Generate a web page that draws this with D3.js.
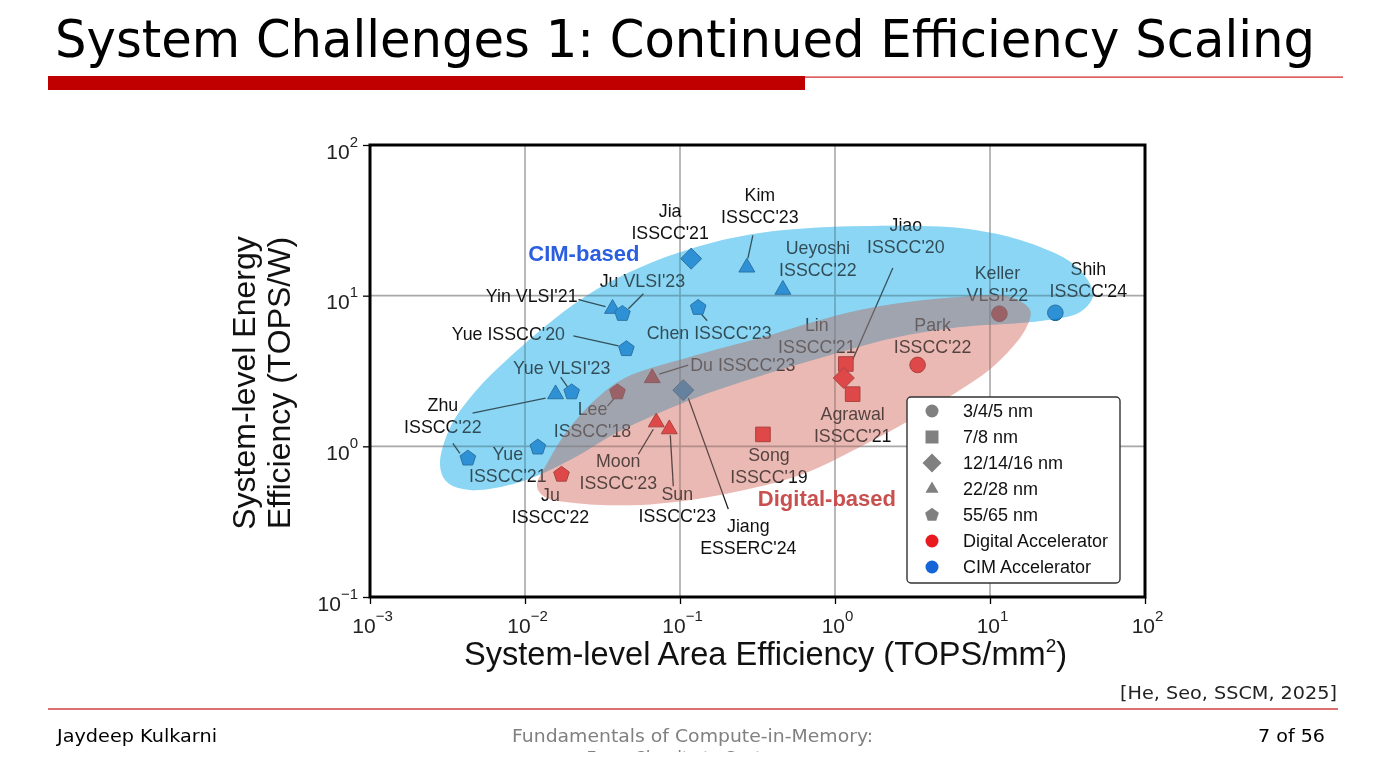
<!DOCTYPE html>
<html><head><meta charset="utf-8">
<script src="https://cdn.jsdelivr.net/npm/d3@7"></script>
<style>html,body{margin:0;padding:0;background:#fff;} svg{display:block}</style>
</head><body><svg id="c" width="1381" height="772"></svg>
<script>
// ---------------- data ----------------
const names = ["Jia ISSCC'21","Kim ISSCC'23","Ueyoshi ISSCC'22","Lin ISSCC'21","Keller VLSI'22","Shih ISSCC'24","Jiao ISSCC'20","Park ISSCC'22","Agrawal ISSCC'21","Song ISSCC'19","Jiang ESSERC'24","Sun ISSCC'23","Moon ISSCC'23","Ju ISSCC'22","Yue ISSCC'21","Zhu ISSCC'22","Zhu ISSCC'22","Lee ISSCC'18","Yue VLSI'23","Yue ISSCC'20","Yin VLSI'21","Ju VLSI'23","Chen ISSCC'23","Du ISSCC'23"];
const areaEff = [0.118,0.270,0.461,1.175,11.5,26.4,1.14,3.41,1.30,0.343,0.105,0.0853,0.0703,0.0172,0.0121,0.00428,0.01575,0.0395,0.0200,0.0451,0.0367,0.0425,0.131,0.0662];
const energyEff = [17.6,15.4,10.96,3.52,7.59,7.7,2.84,3.47,2.22,1.20,2.36,1.30,1.445,0.65,0.985,0.832,2.22,2.29,2.29,4.43,8.19,7.59,8.32,2.84];
const techNode = ["12/14/16 nm","22/28 nm","22/28 nm","7/8 nm","3/4/5 nm","3/4/5 nm","12/14/16 nm","3/4/5 nm","7/8 nm","7/8 nm","12/14/16 nm","22/28 nm","22/28 nm","55/65 nm","55/65 nm","55/65 nm","22/28 nm","55/65 nm","55/65 nm","55/65 nm","22/28 nm","55/65 nm","55/65 nm","22/28 nm"];
const accelType = ["CIM","CIM","CIM","Digital","Digital","CIM","Digital","Digital","Digital","Digital","CIM","Digital","Digital","Digital","CIM","CIM","CIM","Digital","CIM","CIM","CIM","CIM","CIM","Digital"];

const nodeCategories = ["3/4/5 nm","7/8 nm","12/14/16 nm","22/28 nm","55/65 nm"];
const typeCategories = ["Digital Accelerator","CIM Accelerator"];
const xTickExps = [-3,-2,-1,0,1,2];
const yTickExps = [-1,0,1,2];

// label texts (annotations)
const labelLines = [["Jia","ISSCC'21"],["Kim","ISSCC'23"],["Ueyoshi","ISSCC'22"],["Lin","ISSCC'21"],["Keller","VLSI'22"],["Shih","ISSCC'24"],["Jiao","ISSCC'20"],["Park","ISSCC'22"],["Agrawal","ISSCC'21"],["Song","ISSCC'19"],["Jiang","ESSERC'24"],["Sun","ISSCC'23"],["Moon","ISSCC'23"],["Ju","ISSCC'22"],["Yue","ISSCC'21"],["Zhu","ISSCC'22"],[],["Lee","ISSCC'18"],["Yue VLSI'23"],["Yue ISSCC'20"],["Yin VLSI'21"],["Ju VLSI'23"],["Chen ISSCC'23"],["Du ISSCC'23"]];
const regionTags = ["CIM-based","Digital-based"];
const regionTagX = [0.024, 0.887];
const regionTagY = [17.0, 0.402];

// region outlines (log10 of area eff, log10 of energy eff)
const cimRegionLogX = [-2.548,-2.484,-2.323,-2.032,-1.645,-1.323,-0.935,-0.484,0.226,0.903,1.323,1.568,1.665,1.581,1.323,0.806,0.374,-0.097,-0.484,-0.935,-1.400,-1.710,-2.032,-2.355,-2.503];
const cimRegionLogY = [-0.124,0.122,0.361,0.653,0.971,1.157,1.310,1.416,1.462,1.436,1.323,1.184,1.004,0.892,0.832,0.792,0.719,0.586,0.467,0.308,0.095,-0.091,-0.237,-0.290,-0.237];
const digRegionLogX = [-1.923,-1.852,-1.723,-1.548,-1.355,-0.935,-0.484,0.161,0.806,1.129,1.258,1.226,1.032,0.806,0.484,0.161,-0.226,-0.742,-1.258,-1.677,-1.871];
const digRegionLogY = [-0.263,-0.104,0.108,0.308,0.454,0.593,0.719,0.905,0.991,0.991,0.905,0.772,0.540,0.374,0.175,-0.004,-0.190,-0.323,-0.389,-0.376,-0.336];

// ---------------- layout / style ----------------
const labelPos = [[-21,-42],[13,-66],[35,-36],[-29,-33],[-2,-35],[33,-38],[62,-147],[15,-34],[0,26],[6,27],[65,142],[8,71],[-38,45],[-11,26],[-30,13],[-25,-47],[0,0],[-25,23],[-10,-18],[-118,-9],[-35,-7,"end"],[20,-27],[11,31],[38,-7,"start"]];
const leaderPos = [null,[6,-32,1,-9],null,null,null,null,[49,-110,3,-5],null,null,null,[45,119,5,8],[4,57,1,6],[-18,32,-3,7],null,null,[-15,-15,-8,-5],[-83,19,-10,4],[-10,14,-3,6],[-11,-15,-4,-5],[-53,-13,-8,-3],[-34,-9,-7,-2],[21,-20,6,-5],[9,13,2,5],[36,-13,7,-4]];

const SANS = "'Liberation Sans', Arial, Helvetica, sans-serif";
const SLIDE = "'DejaVu Sans', Verdana, Tahoma, sans-serif";
const M = {left:370, right:1145, top:145, bottom:597};
const markFill = {CIM:"#0a86d0", Digital:"#eb2124"};
const regionBlue = "#8ad6f4", regionRed = "#ebb9b4";
const tagColor = ["#2b5fe0","#c8504f"];
const LABEL_FS = 17.8;

const svg = d3.select("#c");
svg.append("rect").attr("width",1381).attr("height",772).attr("fill","#fff");

// ---------------- slide chrome ----------------
svg.append("text").attr("x",55).attr("y",57)
  .attr("font-family",SLIDE).attr("font-size",51).attr("fill","#000")
  .attr("textLength",1260).attr("lengthAdjust","spacingAndGlyphs")
  .text("System Challenges 1: Continued Efficiency Scaling");
svg.append("rect").attr("x",48).attr("y",76).attr("width",757).attr("height",14).attr("fill","#c00000");
svg.append("rect").attr("x",805).attr("y",76.5).attr("width",538).attr("height",1.2).attr("fill","#d02020");

svg.append("text").attr("x",1337).attr("y",699).attr("text-anchor","end")
  .attr("font-family",SLIDE).attr("font-size",17).attr("fill","#222")
  .attr("textLength",217).attr("lengthAdjust","spacingAndGlyphs").text("[He, Seo, SSCM, 2025]");
svg.append("line").attr("x1",48).attr("x2",1338).attr("y1",709).attr("y2",709).attr("stroke","#d04040").attr("stroke-width",1.5);
svg.append("text").attr("x",57).attr("y",742).attr("font-family",SLIDE).attr("font-size",17).attr("fill","#000")
  .attr("textLength",160).attr("lengthAdjust","spacingAndGlyphs").text("Jaydeep Kulkarni");
svg.append("text").attr("x",512).attr("y",742).attr("font-family",SLIDE).attr("font-size",17).attr("fill","#808080")
  .attr("textLength",361).attr("lengthAdjust","spacingAndGlyphs").text("Fundamentals of Compute-in-Memory:");
svg.append("defs").append("clipPath").attr("id","footclip").append("rect").attr("x",0).attr("y",0).attr("width",1381).attr("height",752);
svg.append("text").attr("x",692).attr("y",764).attr("text-anchor","middle").attr("clip-path","url(#footclip)")
  .attr("font-family",SLIDE).attr("font-size",17).attr("fill","#808080").text("From Circuits to Systems");
svg.append("text").attr("x",1325).attr("y",742).attr("text-anchor","end").attr("font-family",SLIDE).attr("font-size",17).attr("fill","#000")
  .attr("textLength",67).attr("lengthAdjust","spacingAndGlyphs").text("7 of 56");

// ---------------- scales ----------------
const x = d3.scaleLog().domain([1e-3,1e2]).range([M.left,M.right]);
const y = d3.scaleLog().domain([1e-1,1e2]).range([M.bottom,M.top]);

// grid
const gGrid = svg.append("g");
xTickExps.slice(1,-1).forEach(e=>{
  gGrid.append("line").attr("x1",x(10**e)).attr("x2",x(10**e)).attr("y1",M.top).attr("y2",M.bottom)
    .attr("stroke","#a8a8a8").attr("stroke-width",1.6);
});
yTickExps.slice(1,-1).forEach(e=>{
  gGrid.append("line").attr("y1",y(10**e)).attr("y2",y(10**e)).attr("x1",M.left).attr("x2",M.right)
    .attr("stroke","#a8a8a8").attr("stroke-width",1.6);
});

// ---------------- symbols ----------------
const shapeTypes = {
  "3/4/5 nm": {draw(c,r){c.moveTo(r,0);c.arc(0,0,r,0,2*Math.PI);}},
  "7/8 nm": {draw(c,r){c.moveTo(-r,-r);c.lineTo(r,-r);c.lineTo(r,r);c.lineTo(-r,r);c.closePath();}},
  "12/14/16 nm": {draw(c,r){c.moveTo(0,-r);c.lineTo(r,0);c.lineTo(0,r);c.lineTo(-r,0);c.closePath();}},
  "22/28 nm": {draw(c,r){const h=Math.sqrt(3)/2*r;c.moveTo(0,-r);c.lineTo(h,r/2);c.lineTo(-h,r/2);c.closePath();}},
  "55/65 nm": {draw(c,r){for(let k=0;k<5;k++){const a=-Math.PI/2+k*2*Math.PI/5;const px=r*Math.cos(a),py=r*Math.sin(a);k?c.lineTo(px,py):c.moveTo(px,py);}c.closePath();}}
};
const markSize = {"3/4/5 nm":7.8,"7/8 nm":7.3,"12/14/16 nm":10.5,"22/28 nm":9.2,"55/65 nm":8.2};
const legendSize = {"3/4/5 nm":6.5,"7/8 nm":6.5,"12/14/16 nm":9.5,"22/28 nm":7.6,"55/65 nm":7.2};

// ---------------- points, leaders, labels ----------------
const gMarks = svg.append("g");
const pts = names.map((n,i)=>({name:n, xv:areaEff[i], yv:energyEff[i], node:techNode[i], type:accelType[i], i}));

pts.forEach(p=>{
  const L = leaderPos[p.i]; if(!L) return;
  const px=x(p.xv), py=y(p.yv);
  gMarks.append("line").attr("x1",px+L[0]).attr("y1",py+L[1]).attr("x2",px+L[2]).attr("y2",py+L[3])
    .attr("stroke","#1a1a1a").attr("stroke-width",1.3);
});

gMarks.selectAll("path.pt").data(pts).join("path").attr("class","pt")
  .attr("transform",d=>`translate(${x(d.xv)},${y(d.yv)})`)
  .attr("d",d=>d3.symbol().type(shapeTypes[d.node]).size(markSize[d.node])())
  .attr("fill",d=>markFill[d.type])
  .attr("stroke",d=>d3.color(markFill[d.type]).darker(1.2))
  .attr("stroke-width",1);

pts.forEach(p=>{
  const lines = labelLines[p.i]; if(!lines.length) return;
  const pos = labelPos[p.i];
  const t = gMarks.append("text").attr("font-family",SANS).attr("font-size",LABEL_FS).attr("fill","#111")
    .attr("text-anchor",pos[2]||"middle");
  lines.forEach((s,k)=>{
    t.append("tspan").attr("x",x(p.xv)+pos[0]).attr("y",y(p.yv)+pos[1]+k*22).text(s);
  });
});

// ---------------- shaded regions ----------------
const regionLine = d3.line().x(d=>x(10**d[0])).y(d=>y(10**d[1])).curve(d3.curveCatmullRomClosed.alpha(0.5));
const gReg = svg.append("g");
[[cimRegionLogX,cimRegionLogY,regionBlue],[digRegionLogX,digRegionLogY,regionRed]].forEach(([lx,ly,col])=>{
  const pth = regionLine(lx.map((v,k)=>[v,ly[k]]));
  gReg.append("path").attr("d",pth).attr("fill",col).style("mix-blend-mode","multiply");
  gReg.append("path").attr("d",pth).attr("fill",col).attr("opacity",0.3);
});

// region tags
regionTags.forEach((s,k)=>{
  svg.append("text").attr("x",x(regionTagX[k])).attr("y",y(regionTagY[k])).attr("text-anchor","middle")
    .attr("font-family",SANS).attr("font-weight","bold").attr("font-size",22).attr("fill",tagColor[k]).text(s);
});

// ---------------- axes ----------------
const minor = exps => { const a=[]; for(let e=exps[0];e<exps[exps.length-1];e++) for(let m=2;m<=9;m++) a.push(m*10**e); return a; };
const supText = e => (e<0?"\u2212":"")+Math.abs(e);

const gx = svg.append("g").attr("transform",`translate(0,${M.bottom})`);
gx.call(d3.axisBottom(x).tickValues(minor(xTickExps)).tickSize(4).tickFormat(()=>""));
gx.call(d3.axisBottom(x).tickValues(xTickExps.map(e=>10**e)).tickSize(7).tickFormat(()=>""));
gx.selectAll(".domain").remove();
gx.selectAll(".tick line").attr("stroke","#000").attr("stroke-width",1.3);
gx.selectAll(".tick text").filter(d=>xTickExps.some(e=>Math.abs(Math.log10(d)-e)<1e-9))
  .each(function(d){
    const e=Math.round(Math.log10(d));
    const t=d3.select(this).text(null).attr("y",36).attr("dy",0).attr("x",2)
      .attr("font-family",SANS).attr("font-size",21).attr("fill","#222").attr("text-anchor","middle");
    t.append("tspan").text("10");
    t.append("tspan").attr("dy",-12).attr("font-size",15).text(supText(e));
  });

const gy = svg.append("g").attr("transform",`translate(${M.left},0)`);
gy.call(d3.axisLeft(y).tickValues(minor(yTickExps)).tickSize(4).tickFormat(()=>""));
gy.call(d3.axisLeft(y).tickValues(yTickExps.map(e=>10**e)).tickSize(7).tickFormat(()=>""));
gy.selectAll(".domain").remove();
gy.selectAll(".tick line").attr("stroke","#000").attr("stroke-width",1.3);
gy.selectAll(".tick text").filter(d=>yTickExps.some(e=>Math.abs(Math.log10(d)-e)<1e-9))
  .each(function(d){
    const e=Math.round(Math.log10(d));
    const t=d3.select(this).text(null).attr("x",-12).attr("y",13).attr("dy",0)
      .attr("font-family",SANS).attr("font-size",21).attr("fill","#222").attr("text-anchor","end");
    t.append("tspan").text("10");
    t.append("tspan").attr("dy",-12).attr("font-size",15).text(supText(e));
  });

// frame
svg.append("rect").attr("x",M.left).attr("y",M.top).attr("width",M.right-M.left).attr("height",M.bottom-M.top)
  .attr("fill","none").attr("stroke","#000").attr("stroke-width",3);

// axis titles
const xt = svg.append("text").attr("x",(M.left+M.right)/2+8).attr("y",665).attr("text-anchor","middle")
  .attr("font-family",SANS).attr("font-size",32.6).attr("fill","#111");
xt.append("tspan").text("System-level Area Efficiency (TOPS/mm");
xt.append("tspan").attr("dy",-13).attr("font-size",19).text("2");
xt.append("tspan").attr("dy",13).text(")");

[["System-level Energy",255],["Efficiency (TOPS/W)",290]].forEach(([s,bx])=>{
  svg.append("text").attr("transform",`translate(${bx},${(M.top+M.bottom)/2+12}) rotate(-90)`)
    .attr("text-anchor","middle").attr("font-family",SANS).attr("font-size",32).attr("fill","#111").text(s);
});

// ---------------- legend ----------------
const gL = svg.append("g");
gL.append("rect").attr("x",907).attr("y",397).attr("width",213).attr("height",186).attr("rx",4)
  .attr("fill","#fff").attr("stroke","#333").attr("stroke-width",1.4);
const legendItems = nodeCategories.map(n=>({label:n, shape:n, color:"#808080"}))
  .concat([{label:typeCategories[0], shape:"3/4/5 nm", color:"#e8191f"},{label:typeCategories[1], shape:"3/4/5 nm", color:"#1565d8"}]);
legendItems.forEach((it,k)=>{
  const cy = 411 + k*26;
  gL.append("path").attr("transform",`translate(932,${cy})`)
    .attr("d",d3.symbol().type(shapeTypes[it.shape]).size(legendSize[it.shape])()).attr("fill",it.color);
  gL.append("text").attr("x",963).attr("y",cy+6).attr("font-family",SANS).attr("font-size",18).attr("fill","#111").text(it.label);
});
</script></body></html>
